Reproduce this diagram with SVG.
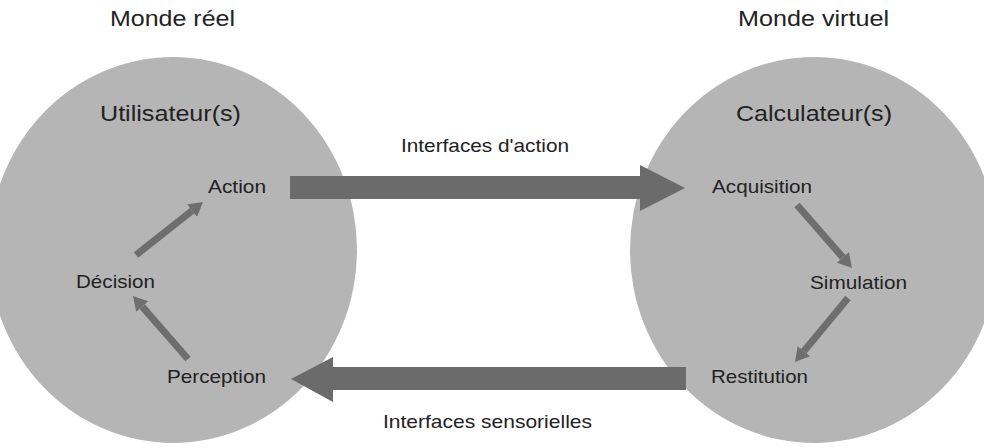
<svg xmlns="http://www.w3.org/2000/svg" width="984" height="448" viewBox="0 0 984 448">
<style>
.bg{fill:#ffffff}
.world{fill:#b5b5b5}
.big{fill:#6b6b6b}
.small{stroke:#6e6e6e;stroke-width:7;fill:none;stroke-linecap:butt}
text{font-family:"Liberation Sans",Arial,sans-serif;fill:#222222}
.title{font-size:22px}
.lbl{font-size:19px}
</style>
<defs>
<marker id="head" viewBox="0 0 14 16" markerWidth="14" markerHeight="16" refX="0" refY="8" orient="auto" markerUnits="userSpaceOnUse">
<path d="M0,0 L14,8 L0,16 Z" fill="#6e6e6e"/>
</marker>
</defs>
<rect class="bg" x="0" y="0" width="984" height="448"/>
<g id="monde-reel">
<ellipse class="world" cx="173" cy="250" rx="184" ry="193"/>
<text class="title" x="110" y="26" textLength="125" lengthAdjust="spacingAndGlyphs">Monde réel</text>
<text class="title" x="100" y="121" textLength="141" lengthAdjust="spacingAndGlyphs">Utilisateur(s)</text>
</g>
<g id="monde-virtuel">
<ellipse class="world" cx="814" cy="250" rx="184" ry="193"/>
<text class="title" x="738" y="26" textLength="151" lengthAdjust="spacingAndGlyphs">Monde virtuel</text>
<text class="title" x="736" y="121" textLength="156" lengthAdjust="spacingAndGlyphs">Calculateur(s)</text>
</g>
<g id="action"><text class="lbl" x="208" y="193" textLength="58" lengthAdjust="spacingAndGlyphs">Action</text></g>
<g id="decision"><text class="lbl" x="76" y="288" textLength="79" lengthAdjust="spacingAndGlyphs">Décision</text></g>
<g id="perception"><text class="lbl" x="167" y="383" textLength="99" lengthAdjust="spacingAndGlyphs">Perception</text></g>
<g id="acquisition"><text class="lbl" x="712" y="193" textLength="100" lengthAdjust="spacingAndGlyphs">Acquisition</text></g>
<g id="simulation"><text class="lbl" x="810" y="289" textLength="97" lengthAdjust="spacingAndGlyphs">Simulation</text></g>
<g id="restitution"><text class="lbl" x="711" y="383" textLength="97" lengthAdjust="spacingAndGlyphs">Restitution</text></g>
<g id="connectors">
<path class="big" d="M290,176 H640 V165 L685,188 L640,211 V199 H290 Z"/>
<text class="lbl" x="401" y="152" textLength="168" lengthAdjust="spacingAndGlyphs">Interfaces d'action</text>
<path class="big" d="M686,367 H333 V357 L291,379 L333,402 V390 H686 Z"/>
<text class="lbl" x="383" y="428" textLength="209" lengthAdjust="spacingAndGlyphs">Interfaces sensorielles</text>
<line class="small" x1="136" y1="255" x2="192" y2="210.7" marker-end="url(#head)"/>
<line class="small" x1="188" y1="359" x2="142.2" y2="306.6" marker-end="url(#head)"/>
<line class="small" x1="797" y1="205" x2="842.8" y2="257.4" marker-end="url(#head)"/>
<line class="small" x1="848" y1="298" x2="803.9" y2="351.2" marker-end="url(#head)"/>
</g>
</svg>
